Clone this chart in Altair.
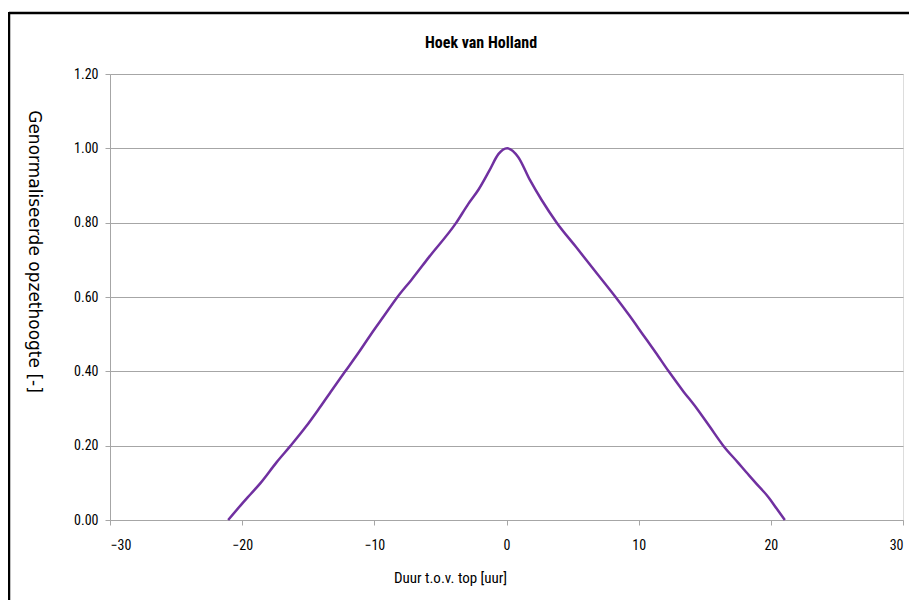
import altair as alt
import pandas as pd

# Duration relative to peak [hours] and normalised surge height [-]
duur = [-21.06, -20.1, -19.35, -18.6, -17.4, -16.33, -15.2, -14.18, -13.2, -12.2,
        -11.2, -10.25, -9.25, -8.25, -7.2, -5.85, -3.8, -2.9, -2.1, -1.3, -0.6, 0.05,
        0.88, 1.77, 2.66, 3.8, 5.25, 6.83, 8.25, 9.3, 10.3, 11.3, 12.27,
        13.3, 14.4, 15.4, 16.4, 17.5, 18.35, 18.85, 19.85, 20.45, 21.06]
opzet = [0.0, 0.04, 0.07, 0.10, 0.155, 0.20, 0.25, 0.30, 0.35, 0.40,
         0.45, 0.50, 0.55, 0.60, 0.646, 0.708, 0.80, 0.85, 0.89, 0.94, 0.985, 1.0,
         0.977, 0.915, 0.861, 0.80, 0.735, 0.664, 0.60, 0.55, 0.50, 0.45, 0.40,
         0.35, 0.30, 0.25, 0.20, 0.155, 0.12, 0.10, 0.06, 0.03, 0.0]

title_text = ["Hoek van Holland"]

df = pd.DataFrame({"duur": duur, "opzet": opzet, "order": list(range(len(duur)))})
df_title = pd.DataFrame({"t": title_text})

NARROW = "Liberation Sans Narrow, Roboto Condensed, Arial Narrow, Liberation Sans"
GRID = "#a6a6a6"

line = alt.Chart(df).mark_line(color="#7030A0", strokeWidth=2.5, interpolate="monotone").encode(
    x=alt.X("duur:Q",
            scale=alt.Scale(domain=[-30, 30], nice=False, zero=False),
            axis=alt.Axis(values=[-30, -20, -10, 0, 10, 20, 30], format="d",
                          title="Duur t.o.v. top [uur]", grid=False,
                          labelFont=NARROW, labelFontSize=14, labelColor="#000",
                          labelPadding=13, tickSize=5, tickColor=GRID,
                          domainColor=GRID, titleFont=NARROW, titleFontSize=15,
                          titleFontWeight="normal", titleColor="#000",
                          titleX=340, titleY=50)),
    y=alt.Y("opzet:Q",
            scale=alt.Scale(domain=[0, 1.2], nice=False),
            axis=alt.Axis(values=[0, 0.2, 0.4, 0.6, 0.8, 1.0, 1.2], format=".2f",
                          title="Genormaliseerde opzethoogte  [-]", grid=True,
                          gridColor=GRID, gridWidth=1,
                          labelFont=NARROW, labelFontSize=14, labelColor="#000",
                          labelPadding=7, tickSize=5, tickColor=GRID,
                          domainColor=GRID, titleFont="DejaVu Sans", titleFontSize=17,
                          titleFontWeight="normal", titleColor="#000",
                          titleAngle=90, titleX=-86, titleY=177)),
    order="order:Q",
)

title = alt.Chart(df_title).mark_text(
    font=NARROW, fontSize=16, fontWeight="bold", color="#000",
    align="center", baseline="middle", clip=False
).encode(text="t:N", x=alt.value(371), y=alt.value(-31))

frame_top = alt.Chart(df_title).mark_rule(color="#000", strokeWidth=2.5, clip=False).encode(
    x=alt.value(-101), x2=alt.value(1000), y=alt.value(-61)
)
frame_left = alt.Chart(df_title).mark_rule(color="#000", strokeWidth=2.5, clip=False).encode(
    x=alt.value(-101), y=alt.value(-62), y2=alt.value(700)
)

chart = alt.layer(frame_top, frame_left, line, title).properties(
    width=793, height=446,
    padding={"left": 102, "top": 66, "right": 6, "bottom": 80},
    autosize="none",
).configure_view(stroke=None).configure(background="white")

chart.save("out.html", embed_options={"renderer": "svg", "actions": False})
